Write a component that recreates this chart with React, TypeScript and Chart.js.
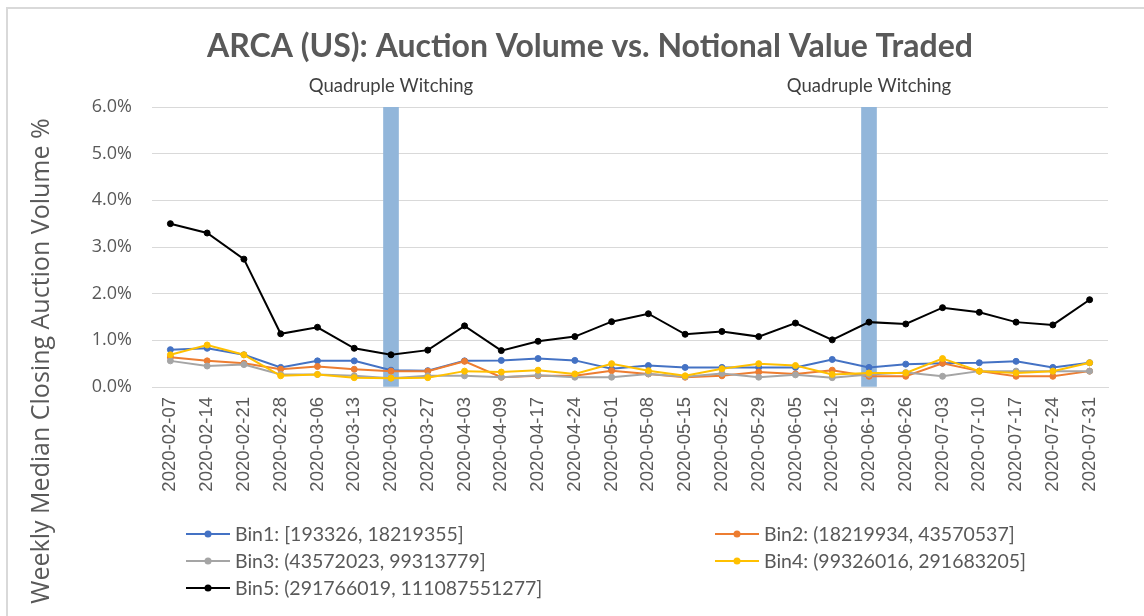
import React, { useEffect, useRef } from "react";
import { Chart, registerables } from "chart.js";

Chart.register(...registerables);

const chartTitle = "ARCA (US): Auction Volume vs. Notional Value Traded";
const yAxisTitle = "Weekly Median Closing Auction Volume %";
const witchingLabel = "Quadruple Witching";

const categories = [
  "2020-02-07", "2020-02-14", "2020-02-21", "2020-02-28", "2020-03-06", "2020-03-13",
  "2020-03-20", "2020-03-27", "2020-04-03", "2020-04-09", "2020-04-17", "2020-04-24",
  "2020-05-01", "2020-05-08", "2020-05-15", "2020-05-22", "2020-05-29", "2020-06-05",
  "2020-06-12", "2020-06-19", "2020-06-26", "2020-07-03", "2020-07-10", "2020-07-17",
  "2020-07-24", "2020-07-31",
];

const witchingWeeks = ["2020-03-20", "2020-06-19"];
const witchingHeight = 6.0;

const seriesNames = [
  "Bin1: [193326, 18219355]",
  "Bin2: (18219934, 43570537]",
  "Bin3: (43572023, 99313779]",
  "Bin4: (99326016, 291683205]",
  "Bin5: (291766019, 111087551277]",
];

const bin1 = [0.80, 0.83, 0.69, 0.42, 0.56, 0.56, 0.36, 0.35, 0.56, 0.57, 0.61, 0.57, 0.39, 0.46, 0.42, 0.42, 0.42, 0.42, 0.59, 0.42, 0.49, 0.51, 0.52, 0.55, 0.42, 0.52];
const bin2 = [0.64, 0.56, 0.51, 0.38, 0.44, 0.38, 0.34, 0.34, 0.55, 0.21, 0.24, 0.24, 0.35, 0.28, 0.21, 0.24, 0.32, 0.28, 0.36, 0.23, 0.23, 0.51, 0.34, 0.23, 0.23, 0.34];
const bin3 = [0.56, 0.45, 0.48, 0.27, 0.27, 0.24, 0.19, 0.24, 0.24, 0.21, 0.25, 0.21, 0.21, 0.28, 0.22, 0.29, 0.21, 0.26, 0.20, 0.27, 0.31, 0.23, 0.34, 0.34, 0.34, 0.34];
const bin4 = [0.69, 0.90, 0.69, 0.24, 0.27, 0.20, 0.19, 0.20, 0.34, 0.32, 0.36, 0.28, 0.50, 0.35, 0.24, 0.39, 0.50, 0.46, 0.27, 0.30, 0.30, 0.61, 0.34, 0.30, 0.34, 0.52];
const bin5 = [3.50, 3.30, 2.74, 1.14, 1.28, 0.83, 0.69, 0.79, 1.31, 0.78, 0.98, 1.08, 1.40, 1.57, 1.13, 1.19, 1.08, 1.37, 1.01, 1.39, 1.35, 1.70, 1.60, 1.39, 1.33, 1.87];

const seriesValues = [bin1, bin2, bin3, bin4, bin5];
const seriesColors = ["#4472C4", "#ED7D31", "#A5A5A5", "#FFC000", "#000000"];

const TEXT = "#595959";
const GRID = "#D9D9D9";

const decorPlugin = {
  id: "decor",
  beforeDraw(chart: any) {
    const ctx = chart.ctx;
    ctx.save();
    ctx.fillStyle = "#ffffff";
    ctx.fillRect(0, 0, chart.width, chart.height);
    ctx.strokeStyle = GRID;
    ctx.lineWidth = 2;
    ctx.strokeRect(7, 8, 1400, 1400);
    ctx.restore();
  },
  afterDraw(chart: any) {
    const ctx = chart.ctx;
    const xs = chart.scales.x;
    ctx.save();
    // title
    ctx.fillStyle = TEXT;
    ctx.font = "bold 32px Lato, sans-serif";
    ctx.textAlign = "center";
    ctx.textBaseline = "middle";
    ctx.fillText(chartTitle, 590, 47);
    // witching labels
    ctx.font = "18.5px Lato, sans-serif";
    ctx.fillStyle = "#404040";
    witchingWeeks.forEach((w) => {
      const idx = categories.indexOf(w);
      ctx.fillText(witchingLabel, xs.getPixelForValue(idx), 86);
    });
    // y title
    ctx.save();
    ctx.translate(42, 361);
    ctx.rotate(-Math.PI / 2);
    ctx.font = "25px 'Open Sans', sans-serif";
    ctx.fillStyle = TEXT;
    ctx.fillText(yAxisTitle, 0, 0);
    ctx.restore();
    // legend
    const colX = [186, 715];
    const rowY = [534, 561, 588];
    ctx.font = "19.5px Lato, sans-serif";
    ctx.textAlign = "left";
    seriesNames.forEach((name, i) => {
      const x = colX[i % 2];
      const y = rowY[Math.floor(i / 2)];
      ctx.strokeStyle = seriesColors[i];
      ctx.lineWidth = 2;
      ctx.beginPath();
      ctx.moveTo(x, y);
      ctx.lineTo(x + 44, y);
      ctx.stroke();
      ctx.fillStyle = seriesColors[i];
      ctx.beginPath();
      ctx.arc(x + 22, y, 3.5, 0, Math.PI * 2);
      ctx.fill();
      ctx.fillStyle = TEXT;
      ctx.fillText(name, x + 49, y + 1);
    });
    ctx.restore();
  },
};

export default function App() {
  const ref = useRef<HTMLCanvasElement | null>(null);
  useEffect(() => {
    if (!ref.current) return;
    const lineSets = seriesNames.map((name, i) => ({
      type: "line" as const,
      label: name,
      data: seriesValues[i],
      borderColor: seriesColors[i],
      backgroundColor: seriesColors[i],
      pointBackgroundColor: seriesColors[i],
      pointBorderColor: seriesColors[i],
      borderWidth: 2,
      pointRadius: 3,
      pointBorderWidth: 1,
      tension: 0,
      order: 5 - i,
    }));
    const barSet = {
      type: "bar" as const,
      label: witchingLabel,
      data: categories.map((c) => (witchingWeeks.includes(c) ? witchingHeight : null)),
      backgroundColor: "#92B6DA",
      barThickness: 15,
      order: 99,
    };
    const chart = new Chart(ref.current, {
      type: "line",
      data: { labels: categories, datasets: [barSet as any, ...lineSets] },
      plugins: [decorPlugin],
      options: {
        animation: false,
        responsive: false,
        layout: { padding: { left: 0, right: 36, top: 107, bottom: 0 } },
        plugins: { legend: { display: false }, title: { display: false }, tooltip: { enabled: false } },
        scales: {
          x: {
            type: "category",
            offset: true,
            grid: { display: false, drawTicks: false },
            border: { display: true, color: GRID, width: 1 },
            ticks: {
              minRotation: 90,
              maxRotation: 90,
              autoSkip: false,
              padding: 10,
              color: TEXT,
              font: { family: "'Liberation Sans', Arial, sans-serif", size: 18.5 },
            },
            afterFit: (s: any) => { s.height = 616 - 387; },
          },
          y: {
            min: 0,
            max: 6,
            grid: { color: GRID, lineWidth: 1, drawTicks: false },
            border: { display: false },
            ticks: {
              stepSize: 1,
              padding: 20,
              color: TEXT,
              font: { family: "'Open Sans', sans-serif", size: 18 },
              callback: (v: any) => Number(v).toFixed(1) + "%",
            },
            afterFit: (s: any) => { s.width = 152; },
          },
        },
      },
    });
    return () => chart.destroy();
  }, []);
  return (
    <div style={{ position: "absolute", left: 0, top: 0, width: 1144, height: 616 }}>
      <canvas ref={ref} width={1144} height={616} />
    </div>
  );
}
